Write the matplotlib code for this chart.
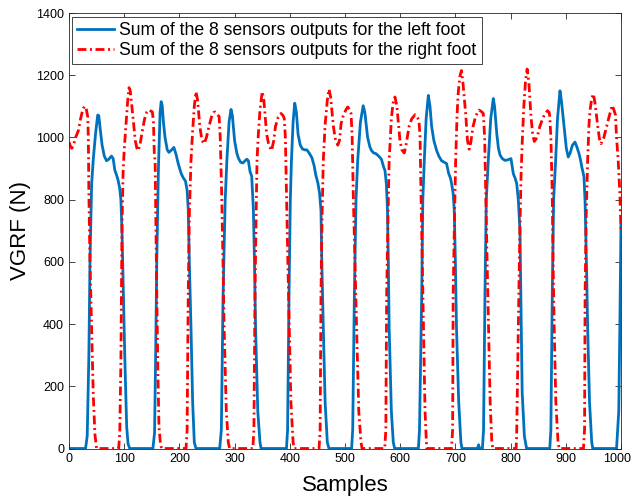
import matplotlib
matplotlib.use("Agg")
import matplotlib.pyplot as plt
import matplotlib.transforms as mtransforms

plt.rcParams['font.family'] = ['Liberation Sans', 'DejaVu Sans']

# Left foot (blue) keypoints: sample index, force (N)
left_x = [0, 30, 33, 36, 38, 41, 44, 48, 52, 54, 57, 60, 64, 68, 72, 77, 80, 83, 86, 89, 92, 94, 96, 98.5, 101, 104.5, 107, 110,
          152, 155, 157, 159, 162, 165, 167, 169, 171, 174, 178, 181, 186, 190, 194, 198, 203, 207, 211, 214, 216, 218, 221, 224, 227, 230,
          273, 276, 279, 283, 286, 290, 293.5, 296, 300, 304, 307, 311, 315, 319, 322, 325, 328, 331, 334, 336, 338, 342, 346, 348,
          394, 396, 398.6, 401, 403, 406, 409, 412, 415, 419, 423, 427, 431, 435, 440, 444, 447, 451, 454, 456.5, 458, 460.7, 464, 468, 471,
          512, 514, 517, 520, 523, 528, 533, 536, 541, 545, 548, 552, 556, 561, 566, 570, 572.5, 575, 577, 578.5, 580, 584, 587.5, 590,
          633, 635, 639, 641, 643.7, 647, 651, 654, 657, 661, 666, 670, 675, 680, 684, 686, 688, 691, 693, 696, 698, 700, 702, 706, 710, 712,
          740, 742, 744, 749, 751, 753.6, 756, 759.6, 764, 768.7, 771, 775, 778, 781, 785, 790, 795, 800.7, 803, 805, 808, 811, 814, 817, 819, 821, 825, 829,
          871, 873, 875.5, 878, 881.6, 885, 889.5, 892, 897, 901, 904.5, 908, 912, 916.7, 920, 924, 927, 929, 931, 933, 935, 936, 938, 939.6, 943, 947, 949,
          992, 996, 998, 1000]
left_y = [0, 0, 40, 300, 600, 850, 930, 1010, 1072, 1070, 1020, 975, 940, 925, 930, 940, 932, 895, 880, 862, 835, 800, 700, 500, 300, 70, 15, 0,
          0, 50, 300, 600, 900, 1080, 1115, 1100, 1050, 1000, 960, 952, 960, 968, 945, 915, 885, 870, 860, 830, 770, 600, 390, 150, 20, 0,
          0, 60, 480, 800, 925, 1050, 1090, 1070, 990, 950, 933, 920, 918, 925, 930, 925, 890, 875, 770, 600, 390, 120, 20, 0,
          0, 60, 495, 800, 925, 1050, 1110, 1080, 1010, 975, 963, 960, 960, 950, 935, 910, 880, 853, 820, 765, 600, 390, 150, 20, 0,
          0, 60, 495, 800, 925, 1050, 1102, 1080, 1000, 970, 958, 950, 948, 940, 930, 905, 893, 850, 765, 600, 390, 120, 20, 0,
          0, 60, 495, 800, 925, 1060, 1135, 1100, 1035, 990, 958, 940, 925, 920, 916, 900, 883, 870, 853, 820, 765, 600, 390, 150, 20, 0,
          0, 12, 0, 0, 60, 495, 800, 925, 1060, 1125, 1100, 1012, 965, 943, 932, 926, 928, 932, 905, 883, 870, 853, 800, 700, 450, 180, 40, 0,
          0, 60, 495, 800, 925, 1060, 1150, 1120, 1035, 965, 937, 950, 975, 985, 970, 948, 925, 905, 890, 873, 790, 712, 550, 390, 150, 20, 0,
          0, 120, 400, 720]

# Right foot (red) keypoints
right_x = [0, 3, 5, 8, 12, 17, 21, 25, 28, 31, 34, 35, 36, 38, 41, 44, 47, 50,
           90, 92, 94, 96, 98, 100, 103, 106, 108.7, 111, 114, 116.5, 120, 123, 125.6, 129, 133, 137, 141, 144, 148, 151, 153, 154.5, 156, 157.5, 159, 161, 163, 166, 168,
           212, 214, 216, 218, 221, 224, 227, 230, 233, 237, 241, 245, 249, 253.6, 258, 262, 264.5, 268, 272, 274, 276.6, 279, 281, 285, 288.6, 291,
           333, 335, 337, 339, 340.6, 343, 346, 350, 353, 358, 362, 367, 371, 374, 379, 384, 388, 390, 392, 394, 396.5, 399, 402, 406, 408,
           453, 455, 456.5, 458.5, 460.7, 464, 468, 471, 474, 479, 483, 487, 490, 493, 497, 502, 505, 508, 511, 513, 515, 518, 521, 525, 529, 531,
           572, 574, 575.5, 578, 580, 584, 587, 590.6, 594, 599.6, 603, 607.5, 611, 616, 621, 627, 631, 634, 636, 637.7, 640, 642, 645, 648,
           693, 695, 696, 698.5, 700.5, 703, 705, 708, 711, 714, 718.6, 722, 725, 728, 732, 737, 743, 748, 750.6, 753, 755, 757.5, 760, 763, 766, 768,
           810, 811, 813, 815, 817, 819, 821, 824, 827, 830, 833, 837, 840, 843, 848, 853, 858, 862, 867, 870, 871, 873, 875.5, 877, 879, 882, 886, 888,
           932, 934, 935, 937, 939.6, 942, 944, 947, 950, 953, 958, 961, 964, 969, 974, 979, 984, 987, 990, 992, 995, 998, 1000]
right_y = [985, 970, 965, 975, 1000, 1022, 1060, 1090, 1100, 1095, 1065, 1000, 820, 600, 390, 170, 45, 0,
           0, 50, 280, 712, 888, 960, 1035, 1110, 1160, 1150, 1100, 1055, 990, 965, 958, 980, 1022, 1060, 1082, 1088, 1085, 1082, 1050, 950, 925, 700, 500, 250, 70, 10, 0,
           0, 60, 495, 750, 925, 1020, 1100, 1147, 1120, 1035, 990, 980, 1000, 1035, 1065, 1080, 1082, 1075, 1067, 1000, 820, 600, 390, 120, 20, 0,
           0, 60, 495, 750, 925, 1010, 1088, 1147, 1120, 1012, 975, 958, 990, 1035, 1065, 1077, 1070, 1060, 1000, 820, 600, 390, 150, 20, 0,
           0, 60, 495, 750, 925, 1040, 1120, 1155, 1130, 1035, 990, 975, 990, 1045, 1070, 1090, 1098, 1090, 1077, 1000, 820, 600, 390, 120, 20, 0,
           0, 60, 495, 750, 925, 1060, 1110, 1130, 1100, 990, 960, 950, 980, 1035, 1060, 1073, 1065, 1055, 1000, 820, 600, 390, 120, 0,
           0, 60, 495, 750, 925, 1070, 1140, 1195, 1215, 1170, 1077, 990, 962, 985, 1035, 1070, 1088, 1082, 1077, 1000, 820, 600, 390, 150, 20, 0,
           0, 40, 280, 500, 712, 880, 980, 1100, 1180, 1220, 1180, 1067, 1010, 987, 1000, 1035, 1060, 1075, 1086, 1080, 1067, 1000, 820, 600, 390, 150, 20, 0,
           0, 60, 495, 750, 925, 1040, 1088, 1125, 1140, 1110, 1035, 995, 980, 1000, 1035, 1070, 1103, 1090, 1072, 1000, 925, 820, 700]

x_ticks = list(range(0, 1001, 100))
y_ticks = list(range(0, 1401, 200))

fig = plt.figure(figsize=(6.33, 5.0), dpi=100)
ax = fig.add_axes([0.109, 0.103, 0.872, 0.871])

ax.plot(left_x, left_y, color='#0072BD', lw=2.0, solid_joinstyle='round',
        label='Sum of the 8 sensors outputs for the left foot')
ax.plot(right_x, right_y, color='#FF0000', lw=2.0, linestyle=(0, (3.2, 1.3, 0.7, 1.3)),
        label='Sum of the 8 sensors outputs for the right foot')

ax.set_xlim(0, 1000)
ax.set_ylim(0, 1400)
ax.set_xticks(x_ticks)
ax.set_yticks(y_ticks)
ax.tick_params(direction='in', top=True, right=True, length=4, width=0.6,
               labelsize=9, colors='#262626', labelcolor='black')
for s in ax.spines.values():
    s.set_color('#262626')
    s.set_linewidth(0.6)

# keep the last x tick label inside the canvas
last_lbl = ax.get_xticklabels()[-1]
last_lbl.set_transform(last_lbl.get_transform() +
                       mtransforms.ScaledTranslation(-4 / 100, 0, fig.dpi_scale_trans))

ax.set_xlabel('Samples', fontsize=16, labelpad=7)
ax.set_ylabel('VGRF (N)', fontsize=16, labelpad=4)

leg = ax.legend(loc='upper left', bbox_to_anchor=(0.005, 0.991), borderaxespad=0,
                fontsize=12.7, handlelength=2.1, handletextpad=0.3, labelspacing=0.15,
                borderpad=0.3, fancybox=False, framealpha=1, edgecolor='#262626')
leg.get_frame().set_linewidth(0.6)

fig.savefig('out.png', dpi=100)
